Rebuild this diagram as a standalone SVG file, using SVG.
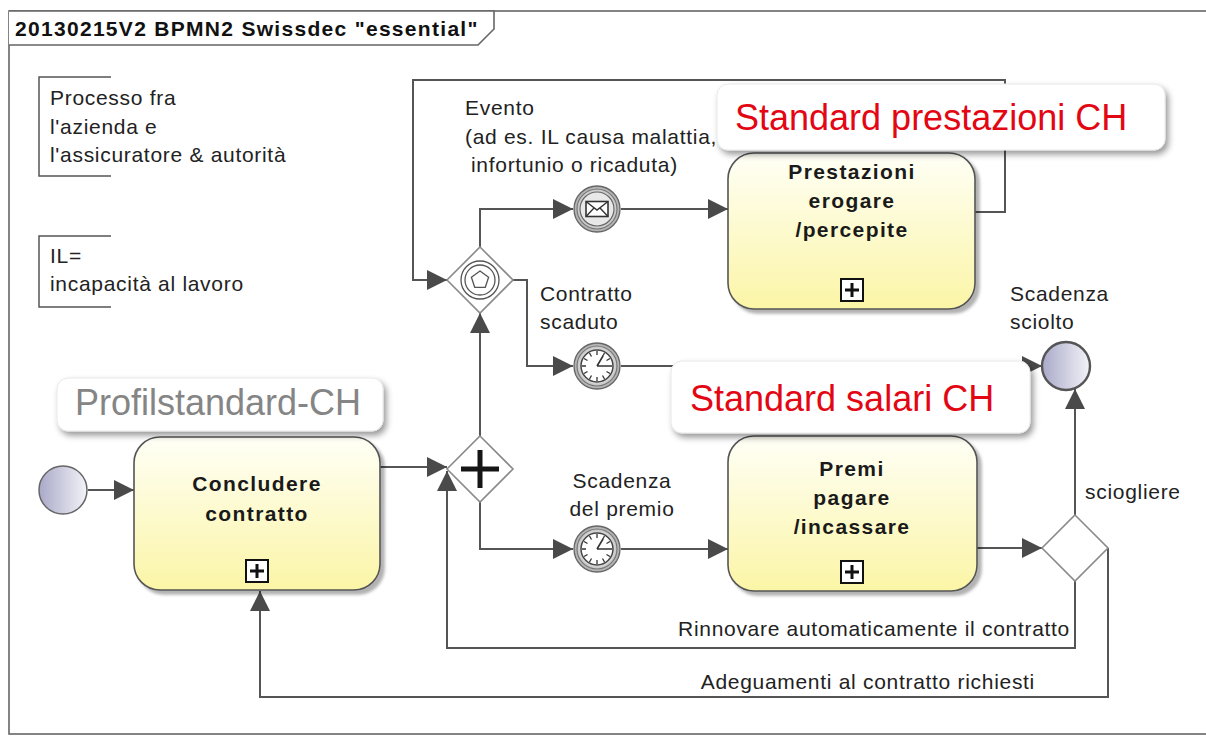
<svg xmlns="http://www.w3.org/2000/svg" width="1206" height="740" viewBox="0 0 1206 740">
<style>
.t{font-family:"Liberation Sans",Arial,sans-serif;font-size:21px;letter-spacing:0.7px;fill:#222}
.b{font-family:"Liberation Sans",Arial,sans-serif;font-size:21px;font-weight:bold;letter-spacing:1.4px;fill:#1a1a1a;text-anchor:middle}
.big{font-family:"Liberation Sans",Arial,sans-serif;font-size:36px;fill:#e30613}
.gry{fill:#858585}
.conn{fill:none;stroke:#555;stroke-width:2;marker-end:url(#arr)}
.task{fill:url(#taskGrad);stroke:#555;stroke-width:1.6;filter:url(#tsh)}
.gw{fill:#fff;stroke:#8a8a8a;stroke-width:1.6}
.lbl{fill:#fff;stroke:#e8e8e8;stroke-width:1;filter:url(#lsh)}
.brk{fill:none;stroke:#555;stroke-width:1.5}
.mk{fill:#fff;stroke:#111;stroke-width:2}
.ev{fill:url(#evGrad);stroke:#666;stroke-width:1.3}
.ring{fill:none;stroke:#777;stroke-width:1.2}
</style>
<defs>
<linearGradient id="taskGrad" x1="0" y1="0" x2="0" y2="1">
<stop offset="0" stop-color="#fffff6"/>
<stop offset="1" stop-color="#fbf5a6"/>
</linearGradient>
<linearGradient id="lavGrad" x1="0" y1="0" x2="1" y2="0">
<stop offset="0" stop-color="#a9a9c9"/>
<stop offset="1" stop-color="#f3f3f8"/>
</linearGradient>
<radialGradient id="evGrad" cx="0.5" cy="0.5" r="0.5">
<stop offset="0.6" stop-color="#f0f0f0"/>
<stop offset="1" stop-color="#a8a8a8"/>
</radialGradient>
<filter id="tsh" x="-10%" y="-10%" width="125%" height="125%">
<feDropShadow dx="4" dy="4" stdDeviation="1.5" flood-color="#000" flood-opacity="0.3"/>
</filter>
<filter id="lsh" x="-10%" y="-20%" width="125%" height="150%">
<feDropShadow dx="3" dy="4" stdDeviation="3" flood-color="#000" flood-opacity="0.4"/>
</filter>
<marker id="arr" viewBox="0 0 20 20" refX="20" refY="10" markerWidth="20" markerHeight="20" markerUnits="userSpaceOnUse" orient="auto">
<path d="M0,0 L20,10 L0,20 z" fill="#4a4a4a"/>
</marker>
</defs>
<rect width="1206" height="740" fill="#fff"/>
<g id="frame">
<rect x="9" y="11" width="1215" height="723" fill="#fff" stroke="#666" stroke-width="1.6"/>
<path d="M9,11 H494 V29 L478,45 H9" fill="#fff" stroke="#666" stroke-width="1.6"/>
<text x="15" y="36" class="t" style="font-weight:bold;letter-spacing:1.3px;fill:#111">20130215V2 BPMN2 Swissdec "essential"</text>
</g>
<g id="note1">
<path class="brk" d="M111,77 H39 V176 H111"/>
<text class="t" x="50" y="105">Processo fra</text>
<text class="t" x="50" y="134">l'azienda e</text>
<text class="t" x="50" y="162">l'assicuratore &amp; autorità</text>
</g>
<g id="note2">
<path class="brk" d="M111,236 H39 V307 H111"/>
<text class="t" x="50" y="263">IL=</text>
<text class="t" x="50" y="291">incapacità al lavoro</text>
</g>
<g id="connectors">
<path class="conn" d="M88,490 H134"/>
<path class="conn" d="M380,467 H447"/>
<path class="conn" d="M480,436 V313"/>
<path class="conn" d="M480,247 V209 H573"/>
<path class="conn" d="M621,209 H728"/>
<path class="conn" d="M975,212 H1005 V80 H413 V280 H447"/>
<path class="conn" d="M513,280 H527 V366 H573"/>
<path class="conn" d="M621,366 H1042"/>
<path class="conn" d="M480,502 V549 H573"/>
<path class="conn" d="M621,549 H728"/>
<path class="conn" d="M977,548 H1042"/>
<path class="conn" d="M1075,515 V389"/>
<path class="conn" d="M1075,581 V648 H447 V471"/>
<path class="conn" d="M1108,548 V697 H260 V591"/>
<text class="t" x="465" y="115">Evento</text>
<text class="t" x="465" y="144">(ad es. IL causa malattia,</text>
<text class="t" x="471" y="172">infortunio o ricaduta)</text>
<text class="t" x="540" y="301">Contratto</text>
<text class="t" x="540" y="329">scaduto</text>
<text class="t" x="622" y="488" text-anchor="middle">Scadenza</text>
<text class="t" x="622" y="516" text-anchor="middle">del premio</text>
<text class="t" x="1085" y="499">sciogliere</text>
<text class="t" x="1070" y="636" text-anchor="end">Rinnovare automaticamente il contratto</text>
<text class="t" x="1035" y="689" text-anchor="end">Adeguamenti al contratto richiesti</text>
</g>
<g id="start">
<circle cx="63" cy="490" r="24" fill="url(#lavGrad)" stroke="#666" stroke-width="1.5"/>
</g>
<g id="concludere">
<rect class="task" x="134" y="437" width="246" height="153" rx="26"/>
<text class="b" x="257" y="491">Concludere</text>
<text class="b" x="257" y="521">contratto</text>
<rect class="mk" x="246" y="560" width="22" height="22"/>
<path d="M250,571 H264 M257,564 V578" stroke="#111" stroke-width="3"/>
</g>
<g id="parallelGateway">
<path class="gw" d="M480,436 L513,469 L480,502 L447,469 z"/>
<path d="M461,469 H499 M480,450 V488" stroke="#151515" stroke-width="5"/>
</g>
<g id="eventGateway">
<path class="gw" d="M480,247 L513,280 L480,313 L447,280 z"/>
<circle cx="480" cy="280" r="19" fill="none" stroke="#555" stroke-width="1.3"/>
<circle cx="480" cy="280" r="15" fill="none" stroke="#555" stroke-width="1.3"/>
<path d="M480,271 L488.6,277.2 L485.3,287.3 L474.7,287.3 L471.4,277.2 z" fill="none" stroke="#555" stroke-width="1.3"/>
</g>
<g id="messageEvent">
<circle class="ev" cx="597" cy="209" r="23"/>
<circle class="ring" cx="597" cy="209" r="20"/>
<circle cx="597" cy="209" r="17" fill="#e8e8e8" stroke="#666" stroke-width="1.2"/>
<rect x="586" y="201.5" width="22" height="15" fill="#fff" stroke="#333" stroke-width="1.6"/>
<path d="M586,201.5 L597,210 L608,201.5 M586,216.5 L594,208 M608,216.5 L600,208" fill="none" stroke="#333" stroke-width="1.4"/>
</g>
<g id="timerExpired">
<circle class="ev" cx="597" cy="366" r="23"/>
<circle class="ring" cx="597" cy="366" r="20"/>
<circle cx="597" cy="366" r="16" fill="#fff" stroke="#444" stroke-width="1.5"/>
<g stroke="#333" stroke-width="1.3">
<path d="M597,351 V355 M597,377 V381 M582,366 H586 M608,366 H612 M604.5,353 L602.5,356.5 M589.5,379 L591.5,375.5 M584,358.5 L587.5,360.5 M610,373.5 L606.5,371.5 M589.5,353 L591.5,356.5 M604.5,379 L602.5,375.5 M584,373.5 L587.5,371.5 M610,358.5 L606.5,360.5"/>
<path d="M597,366 L603,356 M597,366 H608" stroke-width="1.6"/>
</g>
</g>
<g id="timerPremium">
<circle class="ev" cx="597" cy="549" r="23"/>
<circle class="ring" cx="597" cy="549" r="20"/>
<circle cx="597" cy="549" r="16" fill="#fff" stroke="#444" stroke-width="1.5"/>
<g stroke="#333" stroke-width="1.3">
<path d="M597,534 V538 M597,560 V564 M582,549 H586 M608,549 H612 M604.5,536 L602.5,539.5 M589.5,562 L591.5,558.5 M584,541.5 L587.5,543.5 M610,556.5 L606.5,554.5 M589.5,536 L591.5,539.5 M604.5,562 L602.5,558.5 M584,556.5 L587.5,554.5 M610,541.5 L606.5,543.5"/>
<path d="M597,549 L603,539 M597,549 H608" stroke-width="1.6"/>
</g>
</g>
<g id="prestazioni">
<rect class="task" x="728" y="153" width="247" height="156" rx="26"/>
<text class="b" x="852" y="179">Prestazioni</text>
<text class="b" x="852" y="208">erogare</text>
<text class="b" x="852" y="237">/percepite</text>
<rect class="mk" x="841" y="279" width="22" height="22"/>
<path d="M845,290 H859 M852,283 V297" stroke="#111" stroke-width="3"/>
</g>
<g id="premi">
<rect class="task" x="728" y="436" width="249" height="155" rx="26"/>
<text class="b" x="852" y="476">Premi</text>
<text class="b" x="852" y="505">pagare</text>
<text class="b" x="852" y="534">/incassare</text>
<rect class="mk" x="841" y="561" width="22" height="22"/>
<path d="M845,572 H859 M852,565 V579" stroke="#111" stroke-width="3"/>
</g>
<g id="sciogliereGateway">
<path class="gw" d="M1075,515 L1108,548 L1075,581 L1042,548 z"/>
</g>
<g id="endEvent">
<text class="t" x="1010" y="301">Scadenza</text>
<text class="t" x="1010" y="329">sciolto</text>
<circle cx="1066" cy="366" r="24" fill="url(#lavGrad)" stroke="#555" stroke-width="2.4"/>
</g>
<g id="labelPrestazioni">
<rect class="lbl" x="717" y="84" width="448" height="66" rx="11"/>
<text class="big" x="735" y="130">Standard prestazioni CH</text>
</g>
<g id="labelSalari">
<rect class="lbl" x="671" y="361" width="359" height="72" rx="11"/>
<text class="big" x="690" y="411">Standard salari CH</text>
</g>
<g id="labelProfil">
<rect class="lbl" x="57" y="378" width="326" height="53" rx="11"/>
<text class="big gry" x="75" y="415">Profilstandard-CH</text>
</g>
</svg>
